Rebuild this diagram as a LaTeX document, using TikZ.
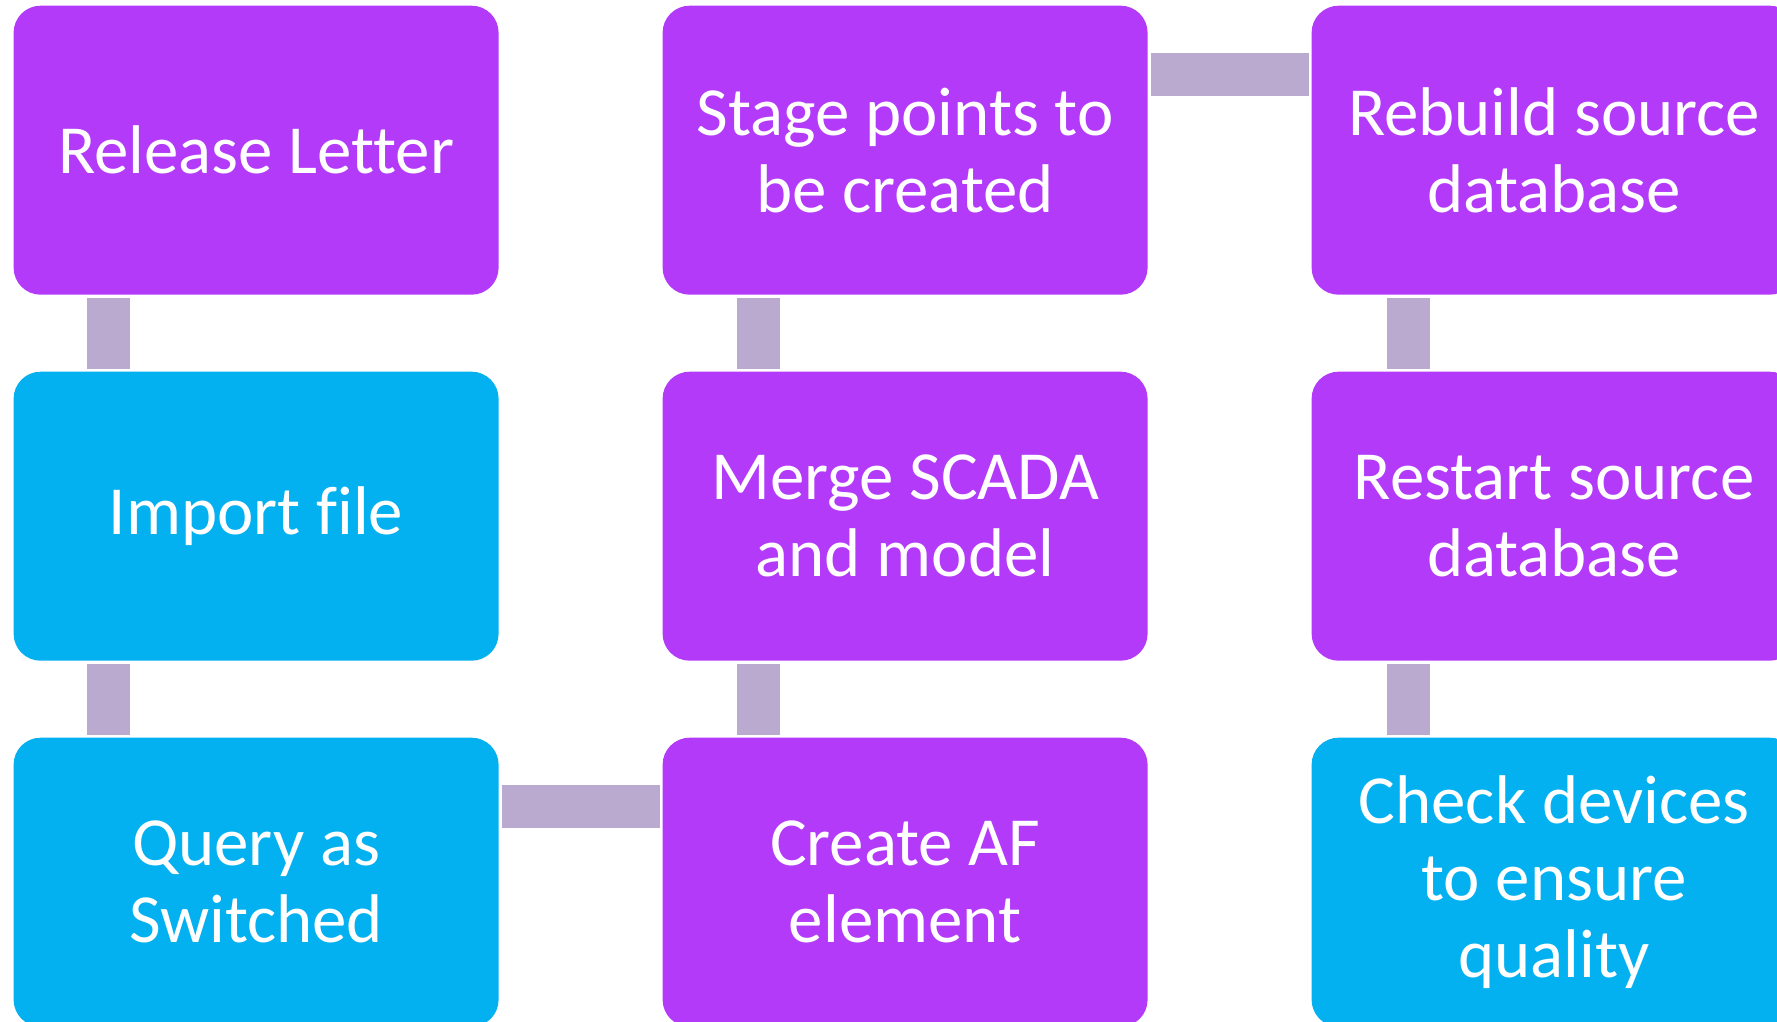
\documentclass[tikz,border=0pt]{standalone}
\usepackage{fontspec}
\setmainfont{Carlito}[Ligatures=NoCommon]
\usepackage{tikz}
\usetikzlibrary{positioning}
\definecolor{stepviolet}{RGB}{179,58,249}
\definecolor{stepblue}{RGB}{3,176,240}
\definecolor{linkgray}{RGB}{187,170,208}
\tikzset{
  stepbox/.style={rounded corners=0.27cm,minimum width=4.85cm,minimum height=2.89cm,
    inner sep=0pt,outer sep=0pt,align=center,text=white,
    font=\fontsize{19.6pt}{21.9pt}\selectfont},
  violet step/.style={stepbox,fill=stepviolet},
  blue step/.style={stepbox,fill=stepblue},
  link/.style={draw=linkgray,line width=0.43cm,shorten <=0.03cm,shorten >=0.03cm}
}

\begin{document}
\begin{tikzpicture}[node distance=0.77cm and 1.64cm]
  \useasboundingbox (0,0) rectangle (17.77,10.21);
  \clip (0,0) rectangle (17.77,10.21);

  \node[violet step] (release) at (2.561,8.708) {Release Letter};
  \node[blue step,below=of release] (import) {Import file};
  \node[blue step,below=of import] (query) {Query as\\Switched};

  \node[violet step,right=of release] (stage) {Stage points to\\be created};
  \node[violet step,below=of stage] (merge) {Merge SCADA\\and model};
  \node[violet step,below=of merge] (create) {Create AF\\element};

  \node[violet step,right=of stage] (rebuild) {Rebuild source\\database};
  \node[violet step,below=of rebuild] (restart) {Restart source\\database};
  \node[blue step,below=of restart] (check) {Check devices\\to ensure\\quality};

  \draw[link] ([xshift=0.95cm]release.south west) -- ([xshift=0.95cm]import.north west);
  \draw[link] ([xshift=0.95cm]import.south west) -- ([xshift=0.95cm]query.north west);
  \draw[link] ([yshift=-0.69cm]query.north east) -- ([yshift=-0.69cm]create.north west);
  \draw[link] ([xshift=0.96cm]create.north west) -- ([xshift=0.96cm]merge.south west);
  \draw[link] ([xshift=0.96cm]merge.north west) -- ([xshift=0.96cm]stage.south west);
  \draw[link] ([yshift=-0.69cm]stage.north east) -- ([yshift=-0.69cm]rebuild.north west);
  \draw[link] ([xshift=0.97cm]rebuild.south west) -- ([xshift=0.97cm]restart.north west);
  \draw[link] ([xshift=0.97cm]restart.south west) -- ([xshift=0.97cm]check.north west);
\end{tikzpicture}
\end{document}
